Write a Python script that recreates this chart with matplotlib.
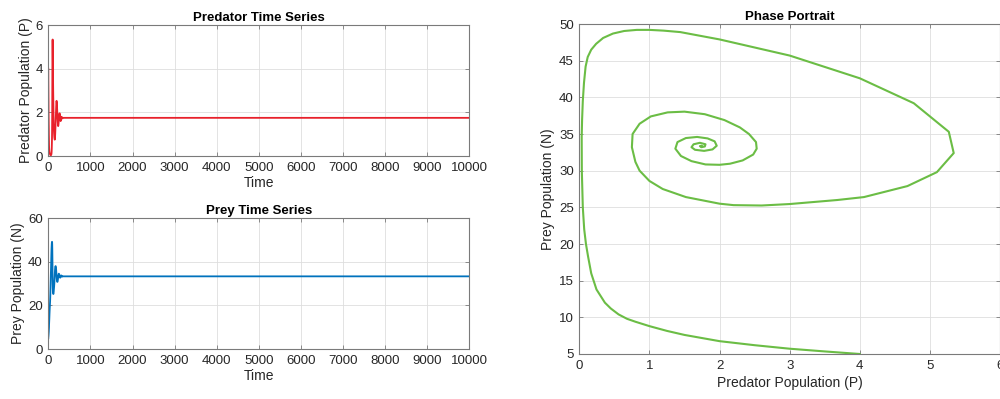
import matplotlib
matplotlib.use("Agg")
import matplotlib.pyplot as plt

# ============================================================
#        Predator-prey trajectory
# ============================================================
t = [0, 1, 3, 5, 7, 10, 12, 13, 15, 16, 17, 18, 20, 24, 28, 33, 38, 43,
     48, 55, 61, 65, 68, 71, 74, 76, 78, 80, 82, 84, 86, 88, 89, 90, 91,
     93, 95, 97, 99, 101, 103, 105, 107, 110, 112, 116, 119, 122, 124,
     129, 133, 138, 143, 147, 152, 156, 160, 164, 169, 174, 179, 184, 188,
     191, 194, 198, 201, 205, 210, 214, 219, 224, 229, 234, 239, 245, 251,
     257, 263, 269, 275, 281, 287, 293, 299, 306, 313, 320, 328, 336, 345,
     360, 450, 10000]

P = [4.0, 3.5, 3.0, 2.5, 2.0, 1.5, 1.25, 1.0, 0.8, 0.68, 0.56, 0.45,
     0.365, 0.245, 0.17, 0.125, 0.095, 0.07, 0.05, 0.036, 0.034, 0.04,
     0.05, 0.067, 0.09, 0.12, 0.17, 0.24, 0.34, 0.48, 0.64, 0.82, 1.0,
     1.2, 1.44, 2.0, 3.0, 4.0, 4.77, 5.27, 5.34, 5.10, 4.68, 4.06, 3.68,
     3.0, 2.6, 2.2, 2.0, 1.52, 1.19, 1.0, 0.86, 0.8, 0.75, 0.76, 0.86,
     1.02, 1.26, 1.5, 1.79, 2.07, 2.29, 2.42, 2.52, 2.53, 2.48, 2.33,
     2.15, 2.0, 1.8, 1.6, 1.45, 1.37, 1.4, 1.52, 1.68, 1.83, 1.93, 1.96,
     1.9, 1.78, 1.65, 1.6, 1.63, 1.72, 1.8, 1.79, 1.74, 1.72, 1.74, 1.75,
     1.75, 1.75]

N = [5.0, 5.35, 5.72, 6.2, 6.75, 7.6, 8.15, 8.8, 9.4, 9.8, 10.4, 11.2,
     12.0, 13.8, 16.0, 18.3, 20.0, 22.0, 25.0, 30.0, 34.6, 37.0, 39.5,
     42.0, 44.2, 45.5, 46.5, 47.3, 48.1, 48.7, 49.05, 49.2, 49.2, 49.1,
     48.9, 47.9, 45.7, 42.6, 39.2, 35.3, 32.4, 29.8, 27.9, 26.4, 26.0,
     25.45, 25.25, 25.3, 25.5, 26.4, 27.5, 28.6, 30.0, 31.2, 33.2, 35.0,
     36.4, 37.4, 37.95, 38.05, 37.7, 36.9, 35.9, 35.0, 33.9, 33.0, 32.2,
     31.4, 30.95, 30.8, 30.85, 31.3, 32.0, 33.0, 33.9, 34.45, 34.6, 34.4,
     34.0, 33.4, 32.9, 32.7, 32.85, 33.2, 33.6, 33.8, 33.6, 33.3, 33.2,
     33.35, 33.4, 33.35, 33.35, 33.35]

time_ticks = list(range(0, 10001, 1000))
pred_ticks = [0, 2, 4, 6]
prey_ticks = [0, 20, 40, 60]
phase_xticks = [0, 1, 2, 3, 4, 5, 6]
phase_yticks = list(range(5, 51, 5))

RED = "#e8212b"
BLUE = "#0072bd"
GREEN = "#6bbd45"

plt.rcParams["font.family"] = ["Liberation Sans", "DejaVu Sans"]
plt.rcParams["font.size"] = 9


def matlab_style(ax):
    # box, inward ticks on every side, faint grid
    for s in ax.spines.values():
        s.set_color("#7a7a7a")
        s.set_linewidth(0.8)
    ax.tick_params(direction="in", top=True, right=True, length=3,
                   width=0.6, color="#7a7a7a", labelcolor="#262626",
                   labelsize=9.5, pad=4)
    ax.grid(True, color="#dedede", linewidth=0.6)
    ax.set_axisbelow(True)


fig = plt.figure(figsize=(10, 3.99), dpi=100)

ax1 = fig.add_axes([0.0483, 0.609, 0.421, 0.328])
ax2 = fig.add_axes([0.0483, 0.1253, 0.421, 0.3276])
ax3 = fig.add_axes([0.5793, 0.1128, 0.4207, 0.827])

# ------------------- predator -------------------
ax1.plot(t, P, color=RED, lw=1.3)
ax1.set_xlim(0, 10000)
ax1.set_ylim(0, 6)
ax1.set_xticks(time_ticks)
ax1.set_yticks(pred_ticks)
ax1.set_xlabel("Time", color="#262626", fontsize=10, labelpad=2)
ax1.set_ylabel("Predator Population (P)", color="#262626", fontsize=10,
               labelpad=2)
ax1.set_title("Predator Time Series", fontweight="bold", fontsize=9.5,
              pad=3)
matlab_style(ax1)

# ------------------- prey -------------------
ax2.plot(t, N, color=BLUE, lw=1.3)
ax2.set_xlim(0, 10000)
ax2.set_ylim(0, 60)
ax2.set_xticks(time_ticks)
ax2.set_yticks(prey_ticks)
ax2.set_xlabel("Time", color="#262626", fontsize=10, labelpad=2)
ax2.set_ylabel("Prey Population (N)", color="#262626", fontsize=10,
               labelpad=2)
ax2.set_title("Prey Time Series", fontweight="bold", fontsize=9.5, pad=3)
matlab_style(ax2)

# ------------------- phase portrait -------------------
ax3.plot(P, N, color=GREEN, lw=1.5)
ax3.set_xlim(0, 6)
ax3.set_ylim(5, 50)
ax3.set_xticks(phase_xticks)
ax3.set_yticks(phase_yticks)
ax3.set_xlabel("Predator Population (P)", color="#262626", fontsize=10,
               labelpad=3)
ax3.set_ylabel("Prey Population (N)", color="#262626", fontsize=10,
               labelpad=3)
ax3.set_title("Phase Portrait", fontweight="bold", fontsize=9.5, pad=3)
matlab_style(ax3)

fig.savefig("out.png", dpi=100)
